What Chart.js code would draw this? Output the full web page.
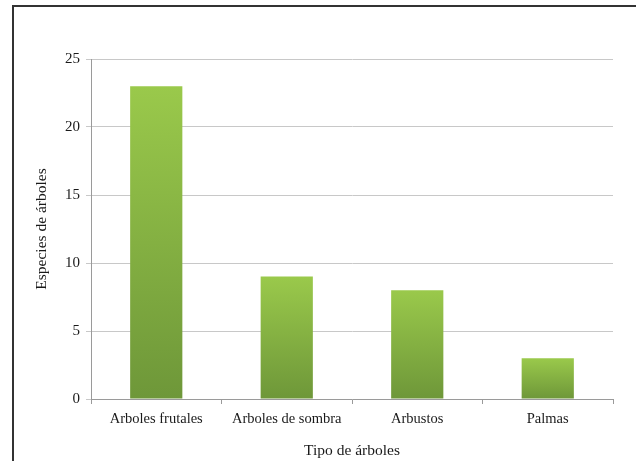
<!DOCTYPE html>
<html>
<head>
<meta charset="utf-8">
<script src="https://cdn.jsdelivr.net/npm/chart.js@4"></script>
<style>
  html, body { margin: 0; padding: 0; background: #fff; overflow: hidden; }
  #wrap { position: relative; width: 636px; height: 461px; }
  #frame { position: absolute; left: 12px; top: 5px; width: 640px; height: 480px; border: 2px solid #333; box-sizing: border-box; }
  canvas { position: absolute; left: 0; top: 0; }
</style>
</head>
<body>
<div id="wrap">
  <div id="frame"></div>
  <canvas id="chart" width="636" height="461"></canvas>
</div>
<script>
const categories = ['Arboles frutales', 'Arboles de sombra', 'Arbustos', 'Palmas'];
const species = [23, 9, 8, 3];
const yTicks = [0, 5, 10, 15, 20, 25];

const serif = "'Liberation Serif', 'Times New Roman', serif";

// each bar gets its own light-to-dark green gradient
function barGradient(c) {
  const chart = c.chart;
  if (!chart.chartArea) return '#86b043';
  const y = chart.scales.y;
  const top = y.getPixelForValue(species[c.dataIndex]);
  const bottom = y.getPixelForValue(0);
  const g = chart.ctx.createLinearGradient(0, top, 0, bottom);
  g.addColorStop(0, '#9ac94b');
  g.addColorStop(1, '#6e9739');
  return g;
}

new Chart(document.getElementById('chart').getContext('2d'), {
  type: 'bar',
  data: {
    labels: categories,
    datasets: [{
      data: species,
      backgroundColor: barGradient,
      borderWidth: 0,
      barPercentage: 0.8,
      categoryPercentage: 0.5
    }]
  },
  options: {
    responsive: false,
    animation: false,
    layout: { padding: { left: 0, top: 59, right: 23, bottom: 0 } },
    plugins: { legend: { display: false }, tooltip: { enabled: false } },
    scales: {
      x: {
        grid: { drawOnChartArea: false, color: '#9a9a9a', tickLength: 5, offset: true },
        border: { color: '#9a9a9a' },
        ticks: { color: '#1a1a1a', font: { family: serif, size: 14.5 }, padding: 6, maxRotation: 0 },
        title: { display: true, text: 'Tipo de árboles', color: '#1a1a1a', font: { family: serif, size: 15.5 }, padding: { top: 4, bottom: 1 } },
        afterFit: s => { s.height = 62; }
      },
      y: {
        min: 0,
        max: 25,
        afterBuildTicks: s => { s.ticks = yTicks.map(v => ({ value: v })); },
        grid: { color: '#c8c8c8', tickLength: 5 },
        border: { color: '#9a9a9a' },
        ticks: { color: '#1a1a1a', font: { family: serif, size: 15 }, padding: 6 },
        title: { display: true, text: 'Especies de árboles', color: '#1a1a1a', font: { family: serif, size: 15.5 }, padding: { top: 33, bottom: 0 } },
        afterFit: s => { s.width = 91; }
      }
    }
  }
});
</script>
</body>
</html>
